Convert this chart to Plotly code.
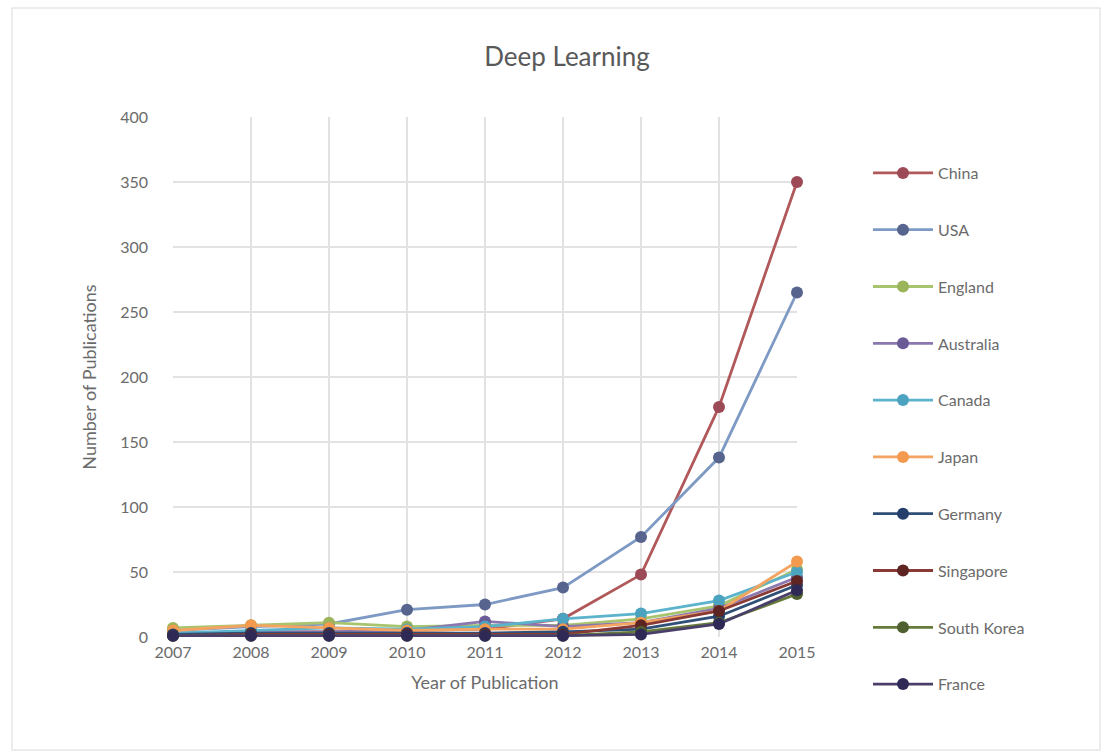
import plotly.graph_objects as go

# Publication counts per country, 2007-2015
years = [2007, 2008, 2009, 2010, 2011, 2012, 2013, 2014, 2015]
china = [3, 4, 4, 5, 6, 14, 48, 177, 350]
usa = [5, 8, 10, 21, 25, 38, 77, 138, 265]
england = [7, 9, 11, 8, 9, 9, 14, 24, 52]
australia = [2, 4, 4, 5, 12, 8, 11, 22, 46]
canada = [3, 5, 7, 6, 8, 14, 18, 28, 50]
japan = [5, 9, 7, 5, 6, 6, 11, 20, 58]
germany = [2, 3, 3, 3, 3, 4, 6, 16, 40]
singapore = [1, 2, 2, 2, 2, 2, 9, 20, 43]
south_korea = [1, 1, 1, 1, 1, 1, 4, 11, 33]
france = [1, 1, 1, 1, 1, 1, 2, 10, 36]

series = [
    ("China", china, "#B0585A", "#9B4A56"),
    ("USA", usa, "#7E9AC4", "#56648E"),
    ("England", england, "#A9C46E", "#9BB55A"),
    ("Australia", australia, "#8A78AE", "#6A5A96"),
    ("Canada", canada, "#5BB3CC", "#4BA3C0"),
    ("Japan", japan, "#F4A460", "#F39A4E"),
    ("Germany", germany, "#2F4F77", "#24406A"),
    ("Singapore", singapore, "#8A3A36", "#5E2422"),
    ("South Korea", south_korea, "#667A3A", "#4F6030"),
    ("France", france, "#4A3F6B", "#2E2A55"),
]

FONT = "Lato, 'Open Sans', sans-serif"
GREY = "#6b6b6b"

fig = go.Figure()
for i, (name, vals, line_col, marker_col) in enumerate(series):
    fig.add_trace(go.Scatter(
        x=years, y=vals, name=name, mode="lines+markers",
        legendgroup=f"g{i}",
        line=dict(color=line_col, width=2.8),
        marker=dict(color=marker_col, size=12),
        cliponaxis=False,
    ))

fig.update_layout(
    width=1107, height=755,
    margin=dict(l=173, r=310, t=117, b=118),
    paper_bgcolor="white", plot_bgcolor="white",
    font=dict(family=FONT, color=GREY, size=15),
    title=dict(text="Deep Learning", x=567 / 1107, xref="container", xanchor="center",
               y=1 - 57 / 755, yref="container", yanchor="middle",
               font=dict(size=26, color="#595959", family=FONT)),
    xaxis=dict(range=[2007, 2015], tickmode="array", tickvals=years,
               ticktext=[str(y) for y in years], showgrid=True, gridcolor="#e2e2e2",
               gridwidth=1.5, zeroline=False, showline=False, ticks="",
               tickfont=dict(size=16, color=GREY), ticklabelstandoff=4,
               title=dict(text="Year of Publication", standoff=16,
                          font=dict(size=18, color=GREY))),
    yaxis=dict(range=[0, 400], dtick=50, showgrid=True, gridcolor="#e2e2e2",
               gridwidth=1.5, zeroline=False, showline=False, ticks="",
               tickfont=dict(size=16, color=GREY), ticklabelstandoff=24,
               title=dict(text="Number of Publications", standoff=18,
                          font=dict(size=18, color=GREY))),
    legend=dict(x=(868 - 173) / 624, xanchor="left", y=(637 - 156) / 520, yanchor="top",
                traceorder="grouped", tracegroupgap=33, itemwidth=60, maxheight=640,
                font=dict(size=16, color=GREY), bgcolor="rgba(0,0,0,0)"),
    showlegend=True,
)

# light frame around the chart area
fig.add_shape(type="rect", xref="paper", yref="paper",
              x0=(12 - 173) / 624, x1=(1100 - 173) / 624,
              y0=(637 - 750) / 520, y1=(637 - 8) / 520,
              line=dict(color="#e6e6e6", width=1.5), fillcolor="rgba(0,0,0,0)", layer="below")

fig.write_html("out.html")
